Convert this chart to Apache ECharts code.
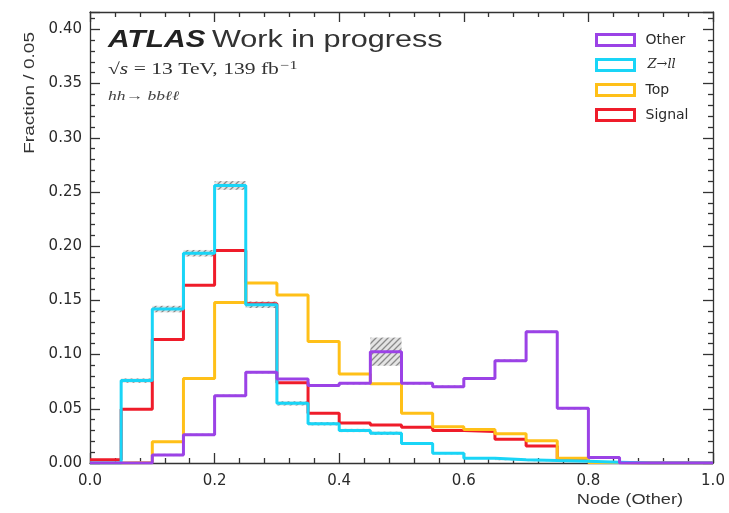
<!DOCTYPE html>
<html>
<head>
<meta charset="utf-8">
<script src="https://cdn.jsdelivr.net/npm/echarts@6/dist/echarts.min.js"></script>
<style>
  html, body { margin: 0; padding: 0; background: #fff; }
  #chart { width: 729px; height: 513px; }
</style>
</head>
<body>
<div id="chart"></div>
<script>
// Bin edges of the classifier output (20 bins of width 0.05)
const binEdges = [0.00, 0.05, 0.10, 0.15, 0.20, 0.25, 0.30, 0.35, 0.40, 0.45, 0.50,
                  0.55, 0.60, 0.65, 0.70, 0.75, 0.80, 0.85, 0.90, 0.95, 1.00];

// Normalised fractions per bin
const otherVals  = [0, 0, 0.0074, 0.026, 0.062, 0.0837, 0.0775, 0.0715, 0.0735, 0.1027,
                    0.0735, 0.0704, 0.078, 0.0944, 0.121, 0.0504, 0.005, 0, 0, 0];
const zllVals    = [0, 0.076, 0.142, 0.1935, 0.256, 0.146, 0.055, 0.0362, 0.030, 0.0274,
                    0.018, 0.009, 0.0043, 0.003, 0.0022, 0.0015, 0.0008, 0, 0, 0];
const topVals    = [0, 0.0005, 0.0197, 0.078, 0.148, 0.166, 0.155, 0.112, 0.082, 0.073,
                    0.046, 0.0335, 0.031, 0.027, 0.0206, 0.0043, 0.0005, 0, 0, 0];
const signalVals = [0.003, 0.0495, 0.114, 0.164, 0.196, 0.147, 0.074, 0.046, 0.037, 0.035,
                    0.033, 0.030, 0.029, 0.022, 0.0157, 0.003, 0.0005, 0, 0, 0];

// Statistical uncertainties (half-width of the hatched bands)
const zllErr   = [0, 0.002, 0.003, 0.003, 0.004, 0.003, 0.002, 0.0015, 0.0015, 0.0015,
                  0.001, 0.001, 0.0005, 0.0005, 0.0005, 0, 0, 0, 0, 0];
const otherErr = [0, 0, 0.001, 0.001, 0.001, 0.001, 0.001, 0.001, 0.001, 0.013,
                  0.001, 0.001, 0.001, 0.001, 0.001, 0.001, 0, 0, 0, 0];

// Axis tick settings
const xTickStep = 0.2;
const yTickStep = 0.05;
const yTop = 0.416;

const colors = {
  Other: '#9b42e6',
  'Z→ll': '#19d5f7',
  Top: '#ffc018',
  Signal: '#ef1c2a'
};

function stepPoints(vals) {
  const pts = vals.map((v, i) => [binEdges[i], v]);
  pts.push([binEdges[binEdges.length - 1], vals[vals.length - 1]]);
  return pts;
}

function bandData(vals, errs) {
  const out = [];
  vals.forEach((v, i) => {
    if (errs[i] > 0) out.push([binEdges[i], binEdges[i + 1], v - errs[i], v + errs[i]]);
  });
  return out;
}

// Diagonal hatch pattern for the uncertainty bands
const hatch = document.createElement('canvas');
hatch.width = 6; hatch.height = 6;
(function () {
  const c = hatch.getContext('2d');
  c.fillStyle = '#e4e4e4';
  c.fillRect(0, 0, 6, 6);
  c.strokeStyle = '#8a8a8a';
  c.lineWidth = 1.3;
  c.beginPath();
  c.moveTo(0, 6); c.lineTo(6, 0);
  c.moveTo(-3, 3); c.lineTo(3, -3);
  c.moveTo(3, 9); c.lineTo(9, 3);
  c.stroke();
})();

function bandSeries(name, data) {
  return {
    type: 'custom',
    name: name,
    z: 1,
    silent: true,
    data: data,
    renderItem: function (params, api) {
      const p0 = api.coord([api.value(0), api.value(3)]);
      const p1 = api.coord([api.value(1), api.value(2)]);
      return {
        type: 'rect',
        shape: { x: p0[0], y: p0[1], width: p1[0] - p0[0], height: p1[1] - p0[1] },
        style: { fill: { image: hatch, repeat: 'repeat' }, stroke: null }
      };
    }
  };
}

function histSeries(name, vals) {
  return {
    type: 'line',
    name: name,
    step: 'end',
    z: 3,
    symbol: 'none',
    data: stepPoints(vals),
    itemStyle: { color: colors[name] },
    lineStyle: { color: colors[name], width: 3 },
    emphasis: { disabled: true },
    animation: false
  };
}

const axisLineStyle = { color: '#333', width: 1.3 };
const tickFont = { fontFamily: 'DejaVu Sans', color: '#2a2a2a' };

function xAxisCfg(pos, labels) {
  return {
    type: 'value', position: pos, min: 0, max: 1, interval: xTickStep,
    axisLine: { show: true, onZero: false, lineStyle: axisLineStyle },
    axisTick: { show: true, inside: true, length: 10, lineStyle: axisLineStyle },
    minorTick: { show: true, splitNumber: 5, length: 5, lineStyle: axisLineStyle },
    splitLine: { show: false },
    axisLabel: labels ? Object.assign({ show: true, fontSize: 15, margin: 11,
      formatter: v => v.toFixed(1) }, tickFont) : { show: false }
  };
}

function yAxisCfg(pos, labels) {
  return {
    type: 'value', position: pos, min: 0, max: yTop, interval: yTickStep,
    axisLine: { show: true, onZero: false, lineStyle: axisLineStyle },
    axisTick: { show: true, inside: true, length: 10, lineStyle: axisLineStyle },
    minorTick: { show: true, splitNumber: 5, length: 5, lineStyle: axisLineStyle },
    splitLine: { show: false },
    axisLabel: labels ? Object.assign({ show: true, fontSize: 15, margin: 8, showMaxLabel: false,
      formatter: v => (Math.abs(v / yTickStep - Math.round(v / yTickStep)) < 1e-6 ? v.toFixed(2) : '') }, tickFont)
      : { show: false }
  };
}

const legendNames = ['Other', 'Z→ll', 'Top', 'Signal'];

const chart = echarts.init(document.getElementById('chart'), null, { renderer: 'canvas' });
chart.setOption({
  animation: false,
  backgroundColor: '#fff',
  grid: { left: 90, right: 16, top: 12, bottom: 50 },
  xAxis: [xAxisCfg('bottom', true), xAxisCfg('top', false)],
  yAxis: [yAxisCfg('left', true), yAxisCfg('right', false)],
  legend: {
    orient: 'vertical',
    left: 590, top: 28,
    itemWidth: 38, itemHeight: 11, itemGap: 11,
    selectedMode: false,
    data: legendNames.map(n => ({
      name: n, icon: 'rect',
      itemStyle: { color: 'rgba(0,0,0,0)', borderColor: colors[n], borderWidth: 3 }
    })),
    textStyle: {
      fontFamily: 'DejaVu Sans', fontSize: 14, color: '#2a2a2a', padding: [0, 0, 0, 6],
      rich: { m: { fontFamily: 'DejaVu Serif', fontStyle: 'italic', fontSize: 13, color: '#2a2a2a', padding: [0, 0, 0, 2] } }
    },
    formatter: n => (n === 'Z→ll' ? '{m|Z→ll}' : n)
  },
  graphic: [
    { type: 'text', x: 108, y: 41, scaleX: 1.3,
      style: { text: 'ATLAS', font: 'italic bold 23px "Liberation Sans"', fill: '#222', verticalAlign: 'middle' } },
    { type: 'text', x: 212, y: 41, scaleX: 1.33,
      style: { text: 'Work in progress', font: '23px "Liberation Sans"', fill: '#333', verticalAlign: 'middle' } },
    { type: 'text', x: 108, y: 70, scaleX: 1.35,
      style: { text: '{r|√}{i|s} = 13 TeV, 139 fb{s|−1}', verticalAlign: 'middle', fill: '#333',
        font: '16px "Liberation Serif"',
        rich: {
          r: { font: '16px "Liberation Serif"', fill: '#333' },
          i: { font: 'italic 16px "Liberation Serif"', fill: '#333' },
          s: { font: '12px "Liberation Serif"', fill: '#333', verticalAlign: 'top', padding: [0, 0, 8, 1] }
        } } },
    { type: 'text', x: 108, y: 97, scaleX: 1.35,
      style: { text: '{i|hh}→ {i|bbℓℓ}', verticalAlign: 'middle', fill: '#444',
        font: '13px "Liberation Serif"',
        rich: { i: { font: 'italic 13px "Liberation Serif"', fill: '#444' } } } },
    { type: 'text', x: 30, y: 32, rotation: Math.PI / 2, scaleX: 1.27,
      style: { text: 'Fraction / 0.05', font: '15px "Liberation Sans"', fill: '#333',
        align: 'right', verticalAlign: 'middle' } },
    { type: 'text', x: 683, y: 500, scaleX: 1.3,
      style: { text: 'Node (Other)', font: '14px "Liberation Sans"', fill: '#333',
        align: 'right', verticalAlign: 'middle' } }
  ],
  series: [
    bandSeries('zllBand', bandData(zllVals, zllErr)),
    bandSeries('otherBand', bandData(otherVals, otherErr)),
    histSeries('Signal', signalVals),
    histSeries('Top', topVals),
    histSeries('Z→ll', zllVals),
    histSeries('Other', otherVals)
  ]
});
</script>
</body>
</html>
